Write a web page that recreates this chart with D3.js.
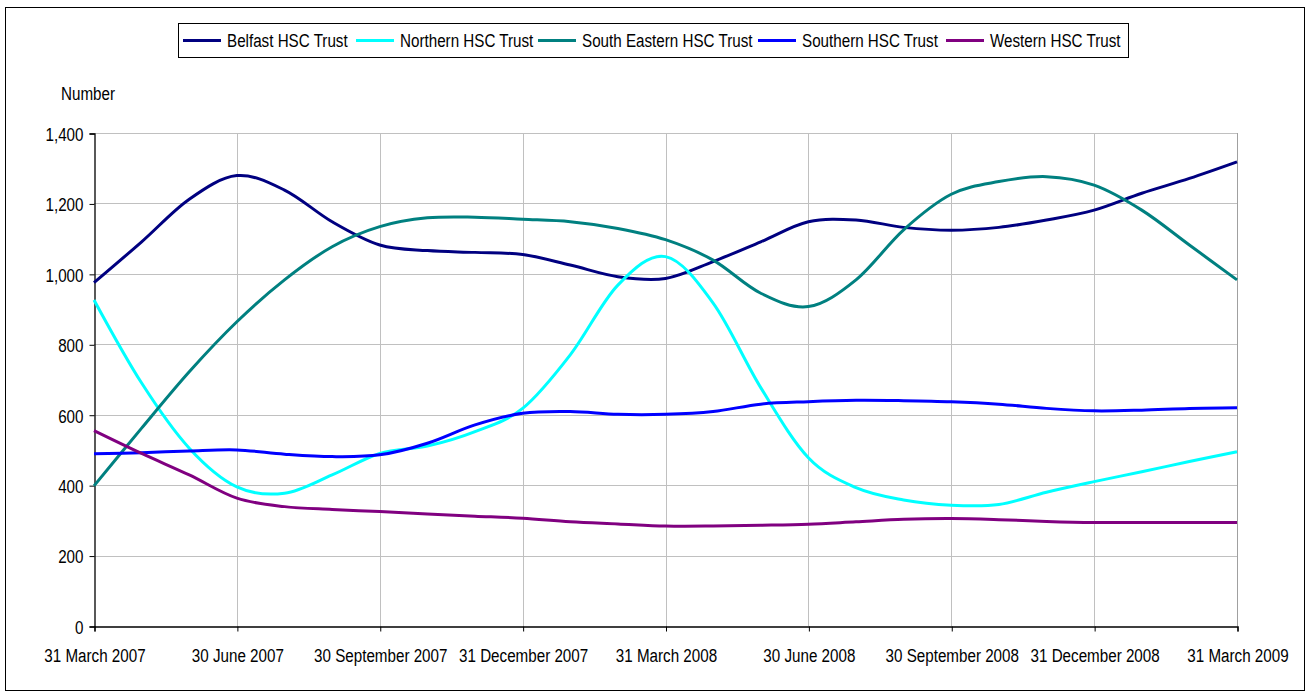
<!DOCTYPE html>
<html>
<head>
<meta charset="utf-8">
<script src="https://cdn.jsdelivr.net/npm/d3@7"></script>
<style>
  body { margin: 0; background: #fff; }
  svg { display: block; font-family: "Liberation Sans", Arial, sans-serif; }
</style>
</head>
<body>
<div id="chart"></div>
<script>
// month-end dates (x categories)
var months = ["31 March 2007", "30 April 2007", "31 May 2007", "30 June 2007", "31 July 2007",
    "31 August 2007", "30 September 2007", "31 October 2007", "30 November 2007", "31 December 2007",
    "31 January 2008", "29 February 2008", "31 March 2008", "30 April 2008", "31 May 2008",
    "30 June 2008", "31 July 2008", "31 August 2008", "30 September 2008", "31 October 2008",
    "30 November 2008", "31 December 2008", "31 January 2009", "28 February 2009", "31 March 2009"];

// tick labels shown on the x axis
var tickLabels = ["31 March 2007", "30 June 2007", "30 September 2007", "31 December 2007",
    "31 March 2008", "30 June 2008", "30 September 2008", "31 December 2008", "31 March 2009"];

var yTicks = [0, 200, 400, 600, 800, 1000, 1200, 1400];

var seriesNames = ["Belfast HSC Trust", "Northern HSC Trust", "South Eastern HSC Trust", "Southern HSC Trust", "Western HSC Trust"];
var seriesColors = ["#000080", "#00ffff", "#008080", "#0000ff", "#800080"];

var belfast = [975, 1091, 1212, 1279, 1238, 1148, 1082, 1066, 1061, 1055, 1025, 992, 987,
    1035, 1091, 1148, 1153, 1132, 1124, 1132, 1153, 1181, 1229, 1271, 1318];
var northern = [926, 690, 505, 395, 377, 429, 490, 511, 552, 618, 770, 968, 1049,
    917, 677, 478, 393, 358, 343, 345, 380, 410, 438, 467, 495];
var southEastern = [398, 562, 722, 864, 983, 1077, 1134, 1159, 1161, 1155, 1148, 1129, 1097,
    1039, 945, 907, 983, 1125, 1226, 1262, 1276, 1252, 1181, 1082, 983];
var southern = [489, 492, 497, 500, 488, 481, 486, 519, 571, 604, 609, 601, 601,
    609, 630, 637, 641, 640, 637, 630, 618, 611, 613, 618, 620];
var western = [555, 490, 429, 363, 339, 331, 325, 318, 312, 306, 296, 290, 284,
    284, 286, 289, 296, 303, 305, 302, 297, 294, 294, 294, 294];

var allSeries = [belfast, northern, southEastern, southern, western];

// narrow looking text: arial-like glyphs squeezed horizontally
var fontSize = 19;
var squeeze = "scale(0.8,1)";

var width_all = 1309, height_all = 698;

var svg = d3.select("#chart")
    .append("svg")
    .attr("width", width_all)
    .attr("height", height_all);

// outer frame
svg.append("rect")
    .attr("x", 5.5).attr("y", 7.5)
    .attr("width", 1299).attr("height", 683)
    .attr("fill", "none").attr("stroke", "#000").attr("stroke-width", 1);

var x = d3.scalePoint()
    .domain(months)
    .range([94, 1237])
    .padding(0);

var y = d3.scaleLinear()
    .domain([0, 1400])
    .range([626, 133]);

// horizontal gridlines
svg.append("g")
    .selectAll("line")
    .data(yTicks.slice(1))
    .enter()
    .append("line")
    .attr("x1", 94).attr("x2", 1237)
    .attr("y1", function(d) { return Math.round(y(d)) + 0.5; })
    .attr("y2", function(d) { return Math.round(y(d)) + 0.5; })
    .attr("stroke", "#c0c0c0");

// vertical gridlines
svg.append("g")
    .selectAll("line")
    .data(tickLabels.slice(1))
    .enter()
    .append("line")
    .attr("x1", function(d) { return Math.round(x(d)) + 0.5; })
    .attr("x2", function(d) { return Math.round(x(d)) + 0.5; })
    .attr("y1", 133).attr("y2", 626)
    .attr("stroke", function(d, i) { return i == tickLabels.length - 2 ? "#a0a0a0" : "#c0c0c0"; });

// y axis
var yAxis = svg.append("g")
    .attr("transform", "translate(94.5,0.5)")
    .call(d3.axisLeft(y).tickValues(yTicks).tickSize(5)
        .tickFormat(d3.format(",")));
yAxis.select(".domain").attr("stroke", "#000").attr("stroke-width", 1.3);
yAxis.selectAll("text")
    .attr("font-size", fontSize).attr("fill", "#000")
    .attr("font-family", "'Liberation Sans', Arial, sans-serif")
    .attr("x", 0).attr("dy", "0.36em")
    .attr("transform", "translate(-11,0) " + squeeze);

// x axis
var xAxis = svg.append("g")
    .attr("transform", "translate(0.5,626.5)")
    .call(d3.axisBottom(x).tickValues(tickLabels).tickSize(5).tickPadding(17));
xAxis.select(".domain").attr("stroke", "#000").attr("stroke-width", 1.3);
xAxis.selectAll("text")
    .attr("font-size", fontSize).attr("fill", "#000")
    .attr("font-family", "'Liberation Sans', Arial, sans-serif")
    .attr("transform", squeeze);

// y axis title
svg.append("text")
    .attr("transform", "translate(61,100) " + squeeze)
    .attr("font-size", fontSize)
    .text("Number");

// lines
var line = d3.line()
    .x(function(d, i) { return x(months[i]); })
    .y(function(d) { return y(d); })
    .curve(d3.curveCardinal.tension(0));

svg.append("g")
    .selectAll("path")
    .data(allSeries)
    .enter()
    .append("path")
    .attr("d", function(d) { return line(d); })
    .attr("fill", "none")
    .attr("stroke", function(d, i) { return seriesColors[i]; })
    .attr("stroke-width", 3)
    .attr("stroke-linejoin", "round");

// legend
var legend = svg.append("g");
legend.append("rect")
    .attr("x", 178.5).attr("y", 23.5)
    .attr("width", 950).attr("height", 34)
    .attr("fill", "#fff").attr("stroke", "#000");

var legendX = [183, 356, 538, 758, 946];
for (var i in seriesNames) {
    legend.append("line")
        .attr("x1", legendX[i]).attr("x2", legendX[i] + 38)
        .attr("y1", 40.5).attr("y2", 40.5)
        .attr("stroke", seriesColors[i])
        .attr("stroke-width", 3);
    legend.append("text")
        .attr("transform", "translate(" + (legendX[i] + 44) + ",47) " + squeeze)
        .attr("font-size", fontSize)
        .text(seriesNames[i]);
}
</script>
</body>
</html>
